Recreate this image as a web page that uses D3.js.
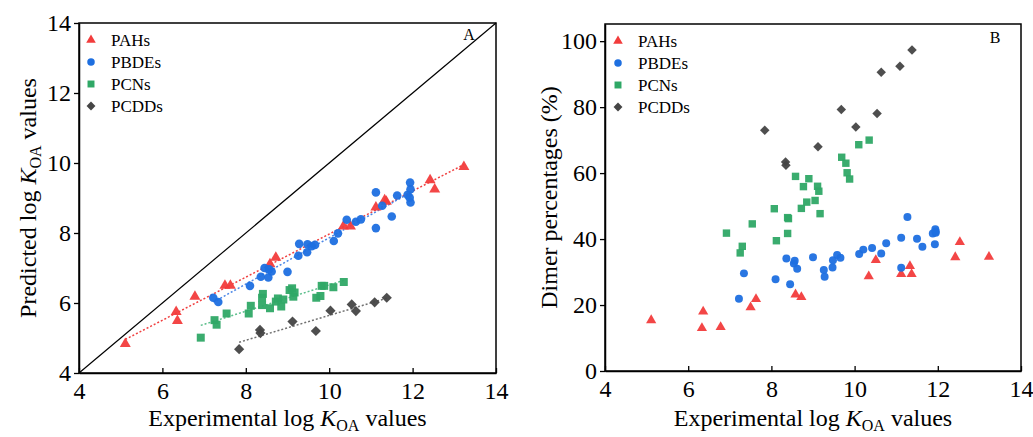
<!DOCTYPE html>
<html lang="en">
	<head>
		<meta charset="utf-8">
		<title>KOA scatter</title>
		<script type="text/javascript" src="https://d3js.org/d3.v7.min.js"></script>
		<style type="text/css">
			body { margin: 0; background: #fff; }
			svg text { font-family: "Liberation Serif", "Times New Roman", serif; fill: #000; }
		</style>
	</head>
	<body>

		<div id="chart"></div>

		<script type="text/javascript">

    // experimental log KOA (x), predicted log KOA (panel A), dimer % (panel B)
    var pahX     = [5.11, 6.33, 6.36, 6.78, 7.50, 7.63, 8.58, 8.72, 10.34, 10.51, 11.12, 11.33, 11.37, 12.42, 12.53, 13.23];
    var pahPred  = [4.83, 5.75, 5.49, 6.18, 6.50, 6.50, 7.11, 7.30, 8.19, 8.19, 8.73, 8.94, 8.90, 9.51, 9.25, 9.89];
    var pahDimer = [15.4, 13.0, 18.0, 13.3, 19.3, 21.8, 23.2, 22.4, 28.7, 33.6, 29.4, 31.8, 29.4, 34.5, 39.1, 34.6];

    var pbdeX     = [7.22, 7.34, 8.10, 8.36, 8.45, 8.54, 8.56, 8.62, 9.00, 9.26, 9.28, 9.47, 9.48, 9.58, 9.66, 10.11, 10.21, 10.42, 10.64, 10.76, 11.12, 11.12, 11.27, 11.50, 11.63, 11.88, 11.94, 11.95, 11.93, 11.95];
    var pbdePred  = [6.15, 6.03, 6.49, 6.75, 7.00, 6.73, 6.96, 6.90, 6.89, 7.35, 7.69, 7.45, 7.68, 7.62, 7.66, 7.77, 7.99, 8.38, 8.32, 8.39, 8.14, 9.16, 8.78, 8.47, 9.07, 9.09, 9.44, 9.25, 9.01, 8.87];
    var pbdeDimer = [21.9, 29.6, 27.8, 34.1, 26.3, 32.6, 33.4, 31.0, 34.5, 30.6, 28.6, 31.4, 33.6, 35.2, 34.3, 35.5, 36.8, 37.3, 35.6, 38.7, 40.4, 31.3, 46.7, 40.1, 37.7, 41.7, 43.0, 41.9, 38.4, 42.3];

    var pcnX     = [6.92, 7.25, 7.30, 7.54, 8.07, 8.12, 8.39, 8.39, 8.41, 8.58, 8.72, 8.77, 8.85, 8.90, 9.05, 9.11, 9.14, 9.17, 9.69, 9.79, 9.82, 9.88, 10.10, 10.35];
    var pcnPred  = [5.01, 5.51, 5.38, 5.70, 5.70, 5.92, 5.94, 6.15, 6.26, 5.85, 6.04, 6.13, 5.90, 6.10, 6.37, 6.42, 6.18, 6.30, 6.15, 6.20, 6.49, 6.49, 6.45, 6.60];
    var pcnDimer = [41.8, 35.8, 37.8, 44.6, 49.2, 39.5, 41.7, 46.5, 46.2, 59.0, 49.3, 55.9, 51.2, 58.3, 51.7, 56.0, 54.5, 47.7, 64.8, 63.0, 60.1, 58.2, 68.6, 70.0];

    var pcddX     = [7.84, 8.34, 8.35, 9.12, 9.68, 10.03, 10.54, 10.64, 11.09, 11.38];
    var pcddPred  = [4.68, 5.23, 5.14, 5.47, 5.20, 5.78, 5.96, 5.77, 6.02, 6.15];
    var pcddDimer = [73.0, 63.4, 62.4, 68.0, 79.3, 74.0, 78.1, 90.6, 92.4, 97.3];

    var seriesNames = ["PAHs", "PBDEs", "PCNs", "PCDDs"];
    var xTicks = [4, 6, 8, 10, 12, 14];
    var yTicksA = [4, 6, 8, 10, 12, 14];
    var yTicksB = [0, 20, 40, 60, 80, 100];

    var colors = ["#f23c3c", "#1e6fe0", "#2fa866", "#454545"];
    var lineColors = ["#f04040", "#4a86e6", "#5cbf8c", "#707070"];
    var shapes = ["triangle", "circle", "square", "diamond"];

    var w = 1033;
    var h = 437;

    var svg = d3.select("#chart")
      .append("svg")
      .attr("width", w)
      .attr("height", h);

    function symbolPath(shape, s) {
      if (shape == "triangle") return d3.symbol().type(d3.symbolTriangle).size(s * 0.9)();
      if (shape == "circle") return d3.symbol().type(d3.symbolCircle).size(s)();
      if (shape == "square") return d3.symbol().type(d3.symbolSquare).size(s * 1.1)();
      return d3.symbol().type(d3.symbolSquare).size(s * 0.9)();
    }

    function drawPanel(opt) {
      var g = svg.append("g");
      var xScale = d3.scaleLinear().domain([4, 14]).range([opt.left, opt.right]);
      var yScale = d3.scaleLinear().domain(opt.yDomain).range([opt.bottom, opt.top]);

      // frame
      g.append("rect")
        .attr("x", opt.left)
        .attr("y", opt.top)
        .attr("width", opt.right - opt.left)
        .attr("height", opt.bottom - opt.top)
        .style("fill", "none")
        .style("stroke", "#000")
        .style("stroke-width", 1.5);

      var xAxis = d3.axisBottom(xScale).tickValues(xTicks).tickSizeInner(-5).tickSizeOuter(0).tickPadding(9);
      var yAxis = d3.axisLeft(yScale).tickValues(opt.yTicks).tickSizeInner(5).tickSizeOuter(0).tickPadding(3);

      var gx = g.append("g")
        .attr("transform", "translate(0," + opt.bottom + ")")
        .call(xAxis);
      var gy = g.append("g")
        .attr("transform", "translate(" + opt.left + ",0)")
        .call(yAxis);
      [gx, gy].forEach(function(a) {
        a.select(".domain").style("stroke", "#000").style("stroke-width", 1.5);
        a.selectAll(".tick line").style("stroke", "#000").style("stroke-width", 1.3);
        a.selectAll(".tick text").style("font-size", "24px").style("font-family", "Liberation Serif");
      });

      if (opt.diagonal) {
        g.append("line")
          .attr("x1", xScale(4)).attr("y1", yScale(4))
          .attr("x2", xScale(14)).attr("y2", yScale(14))
          .style("stroke", "#000")
          .style("stroke-width", 1.2);
      }

      // trend lines (least squares fits)
      if (opt.fit) {
        opt.series.forEach(function(s, i) {
          var xs = s.x, ys = s.y;
          var mx = d3.mean(xs), my = d3.mean(ys);
          var num = d3.sum(xs, function(v, k) { return (v - mx) * (ys[k] - my); });
          var den = d3.sum(xs, function(v) { return (v - mx) * (v - mx); });
          var b = num / den, a0 = my - b * mx;
          var x0 = d3.min(xs), x1 = d3.max(xs);
          g.append("line")
            .attr("x1", xScale(x0)).attr("y1", yScale(a0 + b * x0))
            .attr("x2", xScale(x1)).attr("y2", yScale(a0 + b * x1))
            .style("stroke", lineColors[i])
            .style("stroke-width", 1.5)
            .style("stroke-dasharray", "2,2");
        });
      }

      opt.series.forEach(function(s, i) {
        var pts = s.x.map(function(v, k) { return [v, s.y[k]]; });
        g.selectAll(".p" + i)
          .data(pts)
          .enter()
          .append("path")
          .attr("d", symbolPath(shapes[i], opt.markerSize))
          .attr("transform", function(d) {
            var t = "translate(" + xScale(d[0]) + "," + yScale(d[1]) + ")";
            return shapes[i] == "diamond" ? t + " rotate(45)" : t;
          })
          .style("fill", colors[i])
          .style("opacity", 0.95);
      });

      // legend
      seriesNames.forEach(function(n, i) {
        var ly = opt.legendY + i * 22;
        g.append("path")
          .attr("d", symbolPath(shapes[i], 44))
          .attr("transform", "translate(" + opt.legendX + "," + ly + ")" + (shapes[i] == "diamond" ? " rotate(45)" : ""))
          .style("fill", colors[i]);
        g.append("text")
          .attr("x", opt.legendX + 20)
          .attr("y", ly + 6)
          .style("font-size", "17px")
          .text(n);
      });

      g.append("text")
        .attr("x", opt.labelX)
        .attr("y", opt.labelY)
        .style("font-size", "16px")
        .style("text-anchor", "middle")
        .text(opt.label);

      // x title
      var xt = g.append("text")
        .attr("x", (opt.left + opt.right) / 2)
        .attr("y", 426)
        .style("font-size", "24px")
        .style("text-anchor", "middle");
      xt.append("tspan").text("Experimental log ");
      xt.append("tspan").style("font-style", "italic").text("K");
      xt.append("tspan").attr("dy", 5).style("font-size", "16px").text("OA");
      xt.append("tspan").attr("dy", -5).text(" values");

      // y title
      var yt = g.append("text")
        .attr("transform", "translate(" + opt.yTitleX + "," + ((opt.top + opt.bottom) / 2) + ") rotate(-90)")
        .style("font-size", "24px")
        .style("text-anchor", "middle");
      opt.yTitle(yt);
    }

    drawPanel({
      left: 79, right: 496, top: 23, bottom: 373,
      yDomain: [4, 14], yTicks: yTicksA,
      diagonal: true, fit: true, markerSize: 58,
      series: [
        {x: pahX, y: pahPred}, {x: pbdeX, y: pbdePred},
        {x: pcnX, y: pcnPred}, {x: pcddX, y: pcddPred}
      ],
      legendX: 91, legendY: 40,
      label: "A", labelX: 469, labelY: 40,
      yTitleX: 36,
      yTitle: function(t) {
        t.append("tspan").text("Predicted log ");
        t.append("tspan").style("font-style", "italic").text("K");
        t.append("tspan").attr("dy", 5).style("font-size", "16px").text("OA");
        t.append("tspan").attr("dy", -5).text(" values");
      }
    });

    drawPanel({
      left: 605, right: 1021, top: 24, bottom: 371,
      yDomain: [0, 105.2], yTicks: yTicksB,
      diagonal: false, fit: false, markerSize: 50,
      series: [
        {x: pahX, y: pahDimer}, {x: pbdeX, y: pbdeDimer},
        {x: pcnX, y: pcnDimer}, {x: pcddX, y: pcddDimer}
      ],
      legendX: 618, legendY: 41,
      label: "B", labelX: 995, labelY: 43,
      yTitleX: 557,
      yTitle: function(t) {
        t.text("Dimer percentages (%)");
      }
    });

		</script>
	</body>
</html>
